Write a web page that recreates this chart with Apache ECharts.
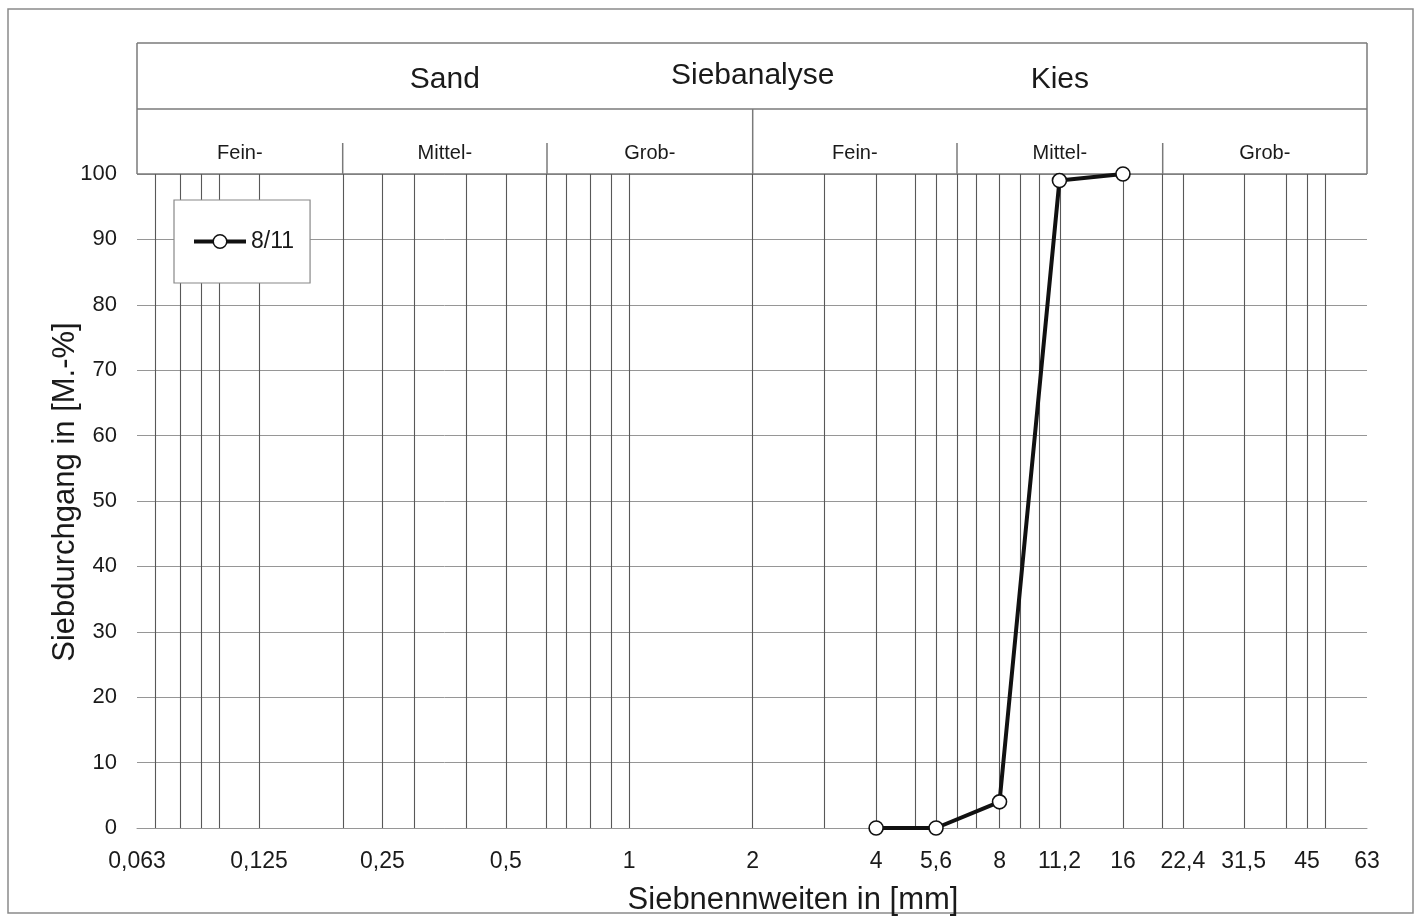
<!DOCTYPE html>
<html><head><meta charset="utf-8">
<script src="https://cdn.jsdelivr.net/npm/echarts@6/dist/echarts.min.js"></script>
<style>html,body{margin:0;padding:0;background:#fff}#c{width:1421px;height:918px}</style>
</head><body><div id="c"></div>
<script>
// ---- data ----
const seriesName = '8/11';
const sieveSizes = [4, 5.6, 8, 11.2, 16];
const passing = [0, 0, 4, 99, 100];
const xLabelValues = [0.063, 0.125, 0.25, 0.5, 1, 2, 4, 5.6, 8, 11.2, 16, 22.4, 31.5, 45, 63];
const xLabelTexts = ['0,063', '0,125', '0,25', '0,5', '1', '2', '4', '5,6', '8', '11,2', '16', '22,4', '31,5', '45', '63'];
const gridSizes = [0.063, 0.07, 0.08, 0.09, 0.1, 0.125, 0.2, 0.25, 0.3, 0.4, 0.5, 0.63, 0.7, 0.8, 0.9, 1,
  2, 3, 4, 5, 5.6, 6.3, 7, 8, 9, 10, 11.2, 16, 20, 22.4, 31.5, 40, 45, 50, 63];
const mainGroups = ['Sand', 'Kies'];
const mainBounds = [0.063, 2, 63];
const subGroups = ['Fein-', 'Mittel-', 'Grob-', 'Fein-', 'Mittel-', 'Grob-'];
const subBounds = [0.063, 0.2, 0.63, 2, 6.3, 20, 63];
const chartTitle = 'Siebanalyse';
const xName = 'Siebnennweiten in [mm]';
const yName = 'Siebdurchgang in [M.-%]';

// ---- styles ----
const FONT = '"Liberation Sans", Arial, sans-serif';
const TXT = '#1a1a1a';
const VLINE = '#585858';
const HLINE = '#969696';
const FRAME = '#7a7a7a';

// logarithmic sieve-size scale (base 2) handled by a value axis in log2 units
const lg = v => Math.log2(v);

const chart = echarts.init(document.getElementById('c'), null, {renderer: 'canvas'});

const option = {
  animation: false,
  backgroundColor: '#fff',
  textStyle: {fontFamily: FONT},
  grid: {left: 137, right: 54, top: 174, bottom: 90, containLabel: false, outerBoundsMode: 'none'},
  legend: {
    left: 174, top: 200, orient: 'horizontal',
    padding: [30, 16, 30, 18],
    itemWidth: 52, itemHeight: 17,
    backgroundColor: '#fff', borderColor: '#888', borderWidth: 1.2,
    textStyle: {fontSize: 23, color: TXT, fontFamily: FONT},
    selectedMode: false,
    data: [{name: seriesName, itemStyle: {color: '#fff', borderColor: '#111', borderWidth: 1.5},
      lineStyle: {color: '#111', width: 4}}]
  },
  xAxis: {
    type: 'value', min: lg(mainBounds[0]), max: lg(mainBounds[mainBounds.length - 1]),
    name: xName, nameLocation: 'middle', nameGap: 57, nameMoveOverlap: false,
    nameTextStyle: {fontSize: 31, color: TXT, fontFamily: FONT, padding: [0, 0, 0, 82]},
    axisLine: {show: true, lineStyle: {color: HLINE, width: 1}},
    axisTick: {show: false}, axisLabel: {show: false}, splitLine: {show: false}
  },
  yAxis: {
    type: 'value', min: 0, max: 100, interval: 10,
    name: yName, nameLocation: 'middle', nameGap: 56, nameRotate: 90, nameMoveOverlap: false,
    nameTextStyle: {fontSize: 31, color: TXT, fontFamily: FONT, padding: [0, 0, 0, 18]},
    axisLine: {show: true, lineStyle: {color: VLINE, width: 1}},
    axisTick: {show: false},
    axisLabel: {fontSize: 22, color: TXT, margin: 20, fontFamily: FONT},
    splitLine: {show: true, lineStyle: {color: HLINE, width: 1}}
  },
  series: [{
    name: seriesName, type: 'line', z: 10,
    data: sieveSizes.map((s, i) => [lg(s), passing[i]]),
    symbol: 'circle', symbolSize: 14,
    itemStyle: {color: '#fff', borderColor: '#111', borderWidth: 1.6},
    lineStyle: {color: '#111', width: 4},
    emphasis: {disabled: true},
    markLine: {
      silent: true, symbol: 'none', z: 1, animation: false,
      lineStyle: {color: VLINE, width: 1.1, type: 'solid'},
      label: {show: false},
      emphasis: {disabled: true},
      data: gridSizes.map(v => ({xAxis: lg(v)}))
    }
  }]
};
chart.setOption(option);

// ---- header and size labels placed on the x scale ----
const px = v => chart.convertToPixel({xAxisIndex: 0}, lg(v));
const yTop = chart.convertToPixel({yAxisIndex: 0}, 100);
const yBot = chart.convertToPixel({yAxisIndex: 0}, 0);
const hTop = yTop - 131, hMid = yTop - 65, hSep = yTop - 31;
const xL = px(mainBounds[0]), xR = px(mainBounds[mainBounds.length - 1]);
const lineStyle = {stroke: FRAME, lineWidth: 1.5};
const g = [];
g.push({type: 'rect', shape: {x: 8, y: 9, width: 1405, height: 904}, style: {fill: 'none', stroke: '#8a8a8a', lineWidth: 1.5}, silent: true});
g.push({type: 'line', shape: {x1: xL, y1: hTop, x2: xR, y2: hTop}, style: lineStyle, silent: true});
g.push({type: 'line', shape: {x1: xL, y1: hMid, x2: xR, y2: hMid}, style: lineStyle, silent: true});
g.push({type: 'line', shape: {x1: xL, y1: hTop, x2: xL, y2: yTop}, style: lineStyle, silent: true});
g.push({type: 'line', shape: {x1: xR, y1: hTop, x2: xR, y2: yTop}, style: lineStyle, silent: true});
g.push({type: 'line', shape: {x1: xL, y1: yTop, x2: xR, y2: yTop}, style: lineStyle, silent: true});
const x2 = px(mainBounds[1]);
g.push({type: 'line', shape: {x1: x2, y1: hMid, x2: x2, y2: yTop}, style: lineStyle, silent: true});
subBounds.forEach((b, i) => {
  if (i === 0 || i === subBounds.length - 1 || b === mainBounds[1]) return;
  const x = px(b);
  g.push({type: 'line', shape: {x1: x, y1: hSep, x2: x, y2: yTop}, style: lineStyle, silent: true});
});
mainGroups.forEach((t, i) => {
  const cx = (px(mainBounds[i]) + px(mainBounds[i + 1])) / 2;
  g.push({type: 'text', x: cx, y: hTop + 37, style: {text: t, fontSize: 30, fill: TXT, fontFamily: FONT, align: 'center', verticalAlign: 'middle'}, silent: true});
});
g.push({type: 'text', x: x2, y: hTop + 33, style: {text: chartTitle, fontSize: 30, fill: TXT, fontFamily: FONT, align: 'center', verticalAlign: 'middle'}, silent: true});
subGroups.forEach((t, i) => {
  const cx = (px(subBounds[i]) + px(subBounds[i + 1])) / 2;
  g.push({type: 'text', x: cx, y: hMid + 44, style: {text: t, fontSize: 20, fill: TXT, fontFamily: FONT, align: 'center', verticalAlign: 'middle'}, silent: true});
});
xLabelValues.forEach((v, i) => {
  g.push({type: 'text', x: px(v), y: yBot + 34, style: {text: xLabelTexts[i], fontSize: 23, fill: TXT, fontFamily: FONT, align: 'center', verticalAlign: 'middle'}, silent: true});
});
chart.setOption({graphic: {elements: g}});
</script>
</body></html>
